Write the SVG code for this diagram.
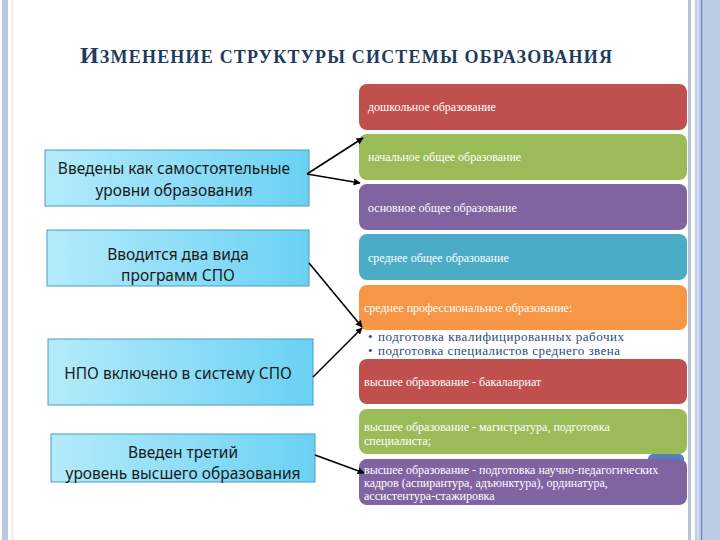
<svg xmlns="http://www.w3.org/2000/svg" width="720" height="540" viewBox="0 0 720 540">
<defs>
<linearGradient id="lb" x1="0" y1="0" x2="1" y2="0">
<stop offset="0" stop-color="#b4ebfb"/>
<stop offset="1" stop-color="#6ad1f3"/>
</linearGradient>
<marker id="ah" viewBox="0 0 10 10" refX="9" refY="5" markerWidth="7" markerHeight="7" markerUnits="userSpaceOnUse" orient="auto">
<path d="M0,0 L10,5 L0,10 z" fill="#000"/>
</marker>
</defs>
<style>
.title{font-family:"Liberation Serif",serif;fill:#1f3b5e;font-weight:bold;}
.lbox{fill:url(#lb);stroke:#4b9cc2;stroke-width:1;}
.ltxt{font-family:"Noto Sans","Open Sans",sans-serif;font-size:15.5px;fill:#1a1a1a;text-anchor:middle;}
.rtxt{font-family:"Liberation Serif",serif;font-size:12px;fill:#ffffff;}
.btxt{font-family:"Liberation Serif",serif;font-size:13px;fill:#2a4a7c;}
.conn{stroke:#000;stroke-width:1.6;fill:none;marker-end:url(#ah);}
</style>
<rect x="0" y="0" width="720" height="540" fill="#ffffff"/>
<!-- side bars -->
<rect x="2" y="0" width="6" height="540" fill="#b9c9e2"/>
<rect x="11" y="0" width="3" height="540" fill="#fbeeee"/>
<rect x="688" y="0" width="3" height="540" fill="#b9c2cf"/>
<rect x="695" y="0" width="25" height="540" fill="#bcccE4"/>
<rect x="701" y="0" width="1.2" height="540" fill="#5f83c4"/>
<rect x="697" y="0" width="2" height="540" fill="#d3dcef"/>
<!-- title -->
<g id="title">
<text class="title" x="80" y="63" font-size="18" textLength="532" lengthAdjust="spacing"><tspan font-size="24">И</tspan>ЗМЕНЕНИЕ СТРУКТУРЫ СИСТЕМЫ ОБРАЗОВАНИЯ</text>
</g>
<!-- right boxes -->
<g id="r1"><rect x="359" y="84" width="328" height="46" rx="8" fill="#c0504d"/><text class="rtxt" x="368" y="111">дошкольное образование</text></g>
<g id="r2"><rect x="359" y="134" width="328" height="46" rx="8" fill="#9bbb59"/><text class="rtxt" x="368" y="161">начальное общее образование</text></g>
<g id="r3"><rect x="359" y="184" width="328" height="46" rx="8" fill="#8064a2"/><text class="rtxt" x="368" y="212">основное общее образование</text></g>
<g id="r4"><rect x="359" y="234" width="328" height="46" rx="8" fill="#4bacc6"/><text class="rtxt" x="368" y="262">среднее общее образование</text></g>
<g id="r5"><rect x="359" y="285" width="328" height="45" rx="8" fill="#f79646"/><text class="rtxt" x="364" y="312">среднее профессиональное образование:</text>
<text class="btxt" x="368" y="341">•</text><text class="btxt" x="378" y="341" textLength="246" lengthAdjust="spacing">подготовка квалифицированных рабочих</text>
<text class="btxt" x="368" y="355">•</text><text class="btxt" x="378" y="355" textLength="242" lengthAdjust="spacing">подготовка специалистов среднего звена</text></g>
<g id="r6"><rect x="359" y="359" width="328" height="45" rx="8" fill="#c0504d"/><text class="rtxt" x="364" y="386">высшее образование - бакалавриат</text></g>
<g id="r7"><rect x="359" y="409" width="328" height="45" rx="8" fill="#9bbb59"/><text class="rtxt" x="364" y="431">высшее образование - магистратура, подготовка</text><text class="rtxt" x="364" y="445">специалиста;</text></g>
<g id="r8"><rect x="648" y="454" width="36" height="12" rx="5" fill="#4f81bd"/><rect x="359" y="459" width="328" height="46" rx="8" fill="#8064a2"/><text class="rtxt" x="364" y="474">высшее образование - подготовка научно-педагогических</text><text class="rtxt" x="364" y="487">кадров (аспирантура, адъюнктура), ординатура,</text><text class="rtxt" x="364" y="500">ассистентура-стажировка</text></g>
<!-- left boxes -->
<g id="l1"><rect class="lbox" x="45" y="150" width="264" height="56"/><text class="ltxt" x="174" y="174">Введены как самостоятельные</text><text class="ltxt" x="174" y="196">уровни образования</text></g>
<g id="l2"><rect class="lbox" x="47" y="230" width="262" height="56"/><text class="ltxt" x="178" y="260">Вводится два вида</text><text class="ltxt" x="178" y="281">программ СПО</text></g>
<g id="l3"><rect class="lbox" x="48" y="339" width="265" height="66"/><text class="ltxt" x="178" y="379">НПО включено в систему СПО</text></g>
<g id="l4"><rect class="lbox" x="51" y="434" width="264" height="48"/><text class="ltxt" x="183" y="458">Введен третий</text><text class="ltxt" x="183" y="479">уровень высшего образования</text></g>
<!-- connectors -->
<g id="connectors">
<path class="conn" d="M307,174 L363,138"/>
<path class="conn" d="M307,174 L360,183"/>
<path class="conn" d="M309,263 L362,327"/>
<path class="conn" d="M313,377 L362,328"/>
<path class="conn" d="M315,455 L364,473"/>
</g>
</svg>
